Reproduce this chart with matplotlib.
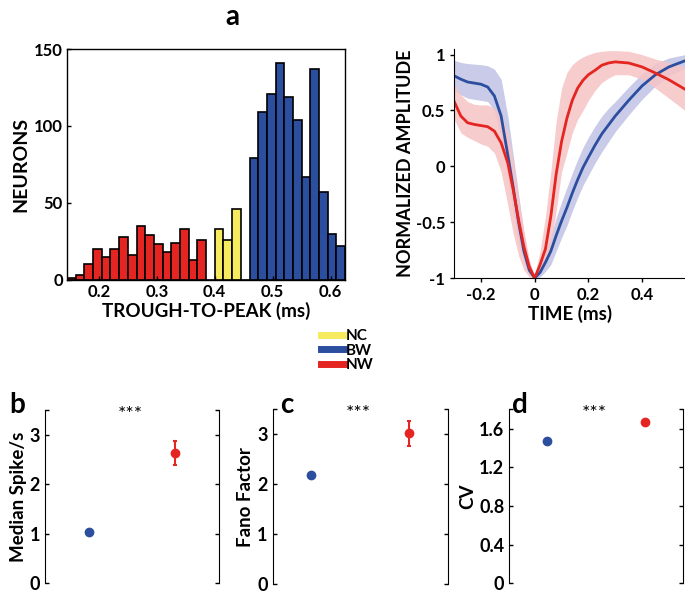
import numpy as np
import matplotlib
matplotlib.use('Agg')
import matplotlib.pyplot as plt
from matplotlib.lines import Line2D

plt.rcParams['font.family'] = ['Lato', 'DejaVu Sans']
plt.rcParams['font.weight'] = 'bold'

RED = '#e52521'
BLUE = '#2c4e9e'
YELLOW = '#f6eb5e'

# histogram of trough-to-peak (bin width 0.015 ms)
bin_edges = np.round(np.arange(0.145, 0.626, 0.015), 3)
counts = [1, 3, 10, 20, 15, 20, 28, 16, 35, 29, 23, 18, 24, 33, 13, 26,
          0, 33, 26, 46, 0,
          79, 109, 121, 141, 119, 104, 67, 137, 57, 30, 22]
groups = ['NW'] * 16 + ['NC'] + ['NC'] * 3 + ['BW'] + ['BW'] * 11
group_colors = {'NC': YELLOW, 'BW': BLUE, 'NW': RED}

# mean waveforms with shaded spread
t = [-0.30, -0.275, -0.25, -0.225, -0.20, -0.175, -0.15, -0.125, -0.10, -0.08,
     -0.06, -0.04, -0.02, 0.0, 0.02, 0.04, 0.06, 0.08, 0.10, 0.12, 0.14, 0.16,
     0.18, 0.20, 0.225, 0.25, 0.275, 0.30, 0.35, 0.40, 0.45, 0.50, 0.56]
bw_mean = [0.81, 0.78, 0.755, 0.745, 0.735, 0.71, 0.63, 0.45, 0.10, -0.19,
           -0.50, -0.76, -0.93, -1.0, -0.95, -0.86, -0.76, -0.62, -0.49, -0.37,
           -0.24, -0.12, -0.01, 0.08, 0.19, 0.29, 0.37, 0.45, 0.59, 0.72, 0.82,
           0.89, 0.945]
bw_hi = [0.95, 0.93, 0.92, 0.915, 0.91, 0.90, 0.87, 0.78, 0.45, 0.10,
         -0.25, -0.60, -0.86, -0.98, -0.88, -0.76, -0.63, -0.46, -0.32, -0.19,
         -0.06, 0.06, 0.17, 0.26, 0.36, 0.45, 0.52, 0.58, 0.71, 0.83, 0.92,
         0.97, 1.0]
bw_lo = [0.68, 0.64, 0.61, 0.60, 0.59, 0.58, 0.50, 0.25, -0.10, -0.40,
         -0.68, -0.86, -0.97, -1.0, -0.99, -0.94, -0.88, -0.76, -0.64, -0.53,
         -0.40, -0.28, -0.17, -0.08, 0.03, 0.13, 0.22, 0.31, 0.46, 0.60, 0.72,
         0.81, 0.88]
nw_mean = [0.58, 0.45, 0.39, 0.375, 0.365, 0.355, 0.315, 0.21, 0.03, -0.21,
           -0.48, -0.72, -0.90, -1.0, -0.88, -0.74, -0.45, -0.07, 0.22, 0.43,
           0.59, 0.70, 0.77, 0.82, 0.86, 0.905, 0.925, 0.935, 0.925, 0.89,
           0.835, 0.775, 0.69]
nw_hi = [0.74, 0.64, 0.58, 0.555, 0.55, 0.55, 0.52, 0.45, 0.30, 0.05,
         -0.28, -0.58, -0.84, -0.98, -0.76, -0.45, -0.05, 0.40, 0.70, 0.84,
         0.91, 0.95, 0.98, 1.0, 1.02, 1.03, 1.035, 1.036, 1.03, 1.0, 0.96,
         0.93, 0.89]
nw_lo = [0.42, 0.30, 0.26, 0.23, 0.20, 0.18, 0.12, -0.05, -0.35, -0.60,
         -0.80, -0.93, -0.99, -1.0, -0.96, -0.88, -0.70, -0.40, -0.05, 0.12,
         0.30, 0.42, 0.50, 0.59, 0.68, 0.75, 0.79, 0.82, 0.82, 0.78, 0.70,
         0.61, 0.50]

# group statistics (BW, NW)
stat_labels = ['Median Spike/s', 'Fano Factor', 'CV']
stat_bw = [1.03, 2.18, 1.475]
stat_nw = [2.63, 3.02, 1.672]
stat_nw_err = [0.24, 0.25, 0.02]
stat_ylim = [3.5, 3.5, 1.8]
stat_ticks = [[0, 1, 2, 3], [0, 1, 2, 3], [0, 0.4, 0.8, 1.2, 1.6]]
stat_ticklabels = [['0', '1', '2', '3'], ['0', '1', '2', '3'],
                   ['0', '0.4', '0.8', '1.2', '1.6']]

fig = plt.figure(figsize=(6.85, 5.98), dpi=100)

# ---- panel a: histogram
ax = fig.add_axes([0.0978, 0.532, 0.406, 0.386])
widths = np.diff(bin_edges)
ax.bar(bin_edges[:-1], counts, width=widths, align='edge',
       color=[group_colors[g] for g in groups], edgecolor='black', linewidth=1.2)
ax.set_xlim(0.145, 0.625)
ax.set_ylim(0, 150)
ax.set_xticks([0.2, 0.3, 0.4, 0.5, 0.6])
ax.set_xticklabels(['0.2', '0.3', '0.4', '0.5', '0.6'])
ax.set_yticks([0, 50, 100, 150])
ax.tick_params(direction='in', labelsize=12, length=3, width=1, pad=3)
for s in ax.spines.values():
    s.set_linewidth(1)
ax.set_xlabel('TROUGH-TO-PEAK (ms)', fontsize=13.5, fontweight='bold', labelpad=1)
ax.set_ylabel('NEURONS', fontsize=14, fontweight='bold', labelpad=3)

# ---- waveform panel
ax = fig.add_axes([0.663, 0.535, 0.337, 0.383])
ax.fill_between(t, bw_lo, bw_hi, color='#c9cbe9', lw=0)
ax.fill_between(t, nw_lo, nw_hi, color='#f6c3c5', lw=0, alpha=0.85)
ax.plot(t, bw_mean, color=BLUE, lw=2)
ax.plot(t, nw_mean, color=RED, lw=2)
ax.set_xlim(-0.3, 0.56)
ax.set_ylim(-1, 1.05)
ax.set_xticks([-0.2, 0, 0.2, 0.4])
ax.set_xticklabels(['-0.2', '0', '0.2', '0.4'])
ax.set_yticks([-1, -0.5, 0, 0.5, 1])
ax.set_yticklabels(['-1', '-0.5', '0', '0.5', '1'])
ax.spines['top'].set_visible(False)
ax.spines['right'].set_visible(False)
ax.tick_params(labelsize=12, length=3, width=1)
ax.set_xlabel('TIME (ms)', fontsize=13.5, fontweight='bold', labelpad=1)
ax.set_ylabel('NORMALIZED AMPLITUDE', fontsize=13, fontweight='bold', labelpad=1)

fig.text(0.339, 0.972, 'a', fontsize=20, fontweight='bold', ha='center', va='center')

# legend
handles = [Line2D([], [], color=group_colors[k], lw=5) for k in ['NC', 'BW', 'NW']]
fig.legend(handles, ['NC', 'BW', 'NW'], loc='upper left', bbox_to_anchor=(0.458, 0.462),
           frameon=False, handlelength=1.45, handletextpad=0.15, labelspacing=0.02,
           borderpad=0, prop={'weight': 'bold', 'size': 11})

# ---- panels b, c, d
rects = [[0.0657, 0.025, 0.254, 0.289],
         [0.398, 0.0234, 0.2555, 0.292],
         [0.7435, 0.0246, 0.253, 0.291]]
xlims = [(0.5, 2.5), (0.607, 2.393), (0.615, 2.385)]
letters = ['b', 'c', 'd']
letter_x = [0.025, 0.419, 0.759]
for i in range(3):
    ax = fig.add_axes(rects[i])
    ax.plot([1], [stat_bw[i]], 'o', color=BLUE, ms=6)
    ax.errorbar([2], [stat_nw[i]], yerr=[stat_nw_err[i]], fmt='o', color=RED,
                ms=6, elinewidth=1.5, capsize=1.5, capthick=1.5)
    ax.set_xlim(*xlims[i])
    ax.set_ylim(0, stat_ylim[i])
    ax.set_xticks([])
    ax.set_yticks(stat_ticks[i] + [stat_ylim[i]])
    ax.set_yticklabels(stat_ticklabels[i] + [''])
    ax.spines['top'].set_visible(False)
    ax.spines['bottom'].set_visible(False)
    ax.tick_params(axis='y', direction='in', right=True, labelsize=13, length=3, width=1)
    ax.set_ylabel(stat_labels[i], fontsize=13.5, fontweight='bold', labelpad=2)
    ax.text(0.49, 0.975, '***', transform=ax.transAxes, ha='center', va='center',
            fontsize=14, fontweight='normal')
    fig.text(letter_x[i], 0.323, letters[i], fontsize=20, fontweight='bold',
             ha='center', va='center')

fig.savefig('out.png', dpi=100)
